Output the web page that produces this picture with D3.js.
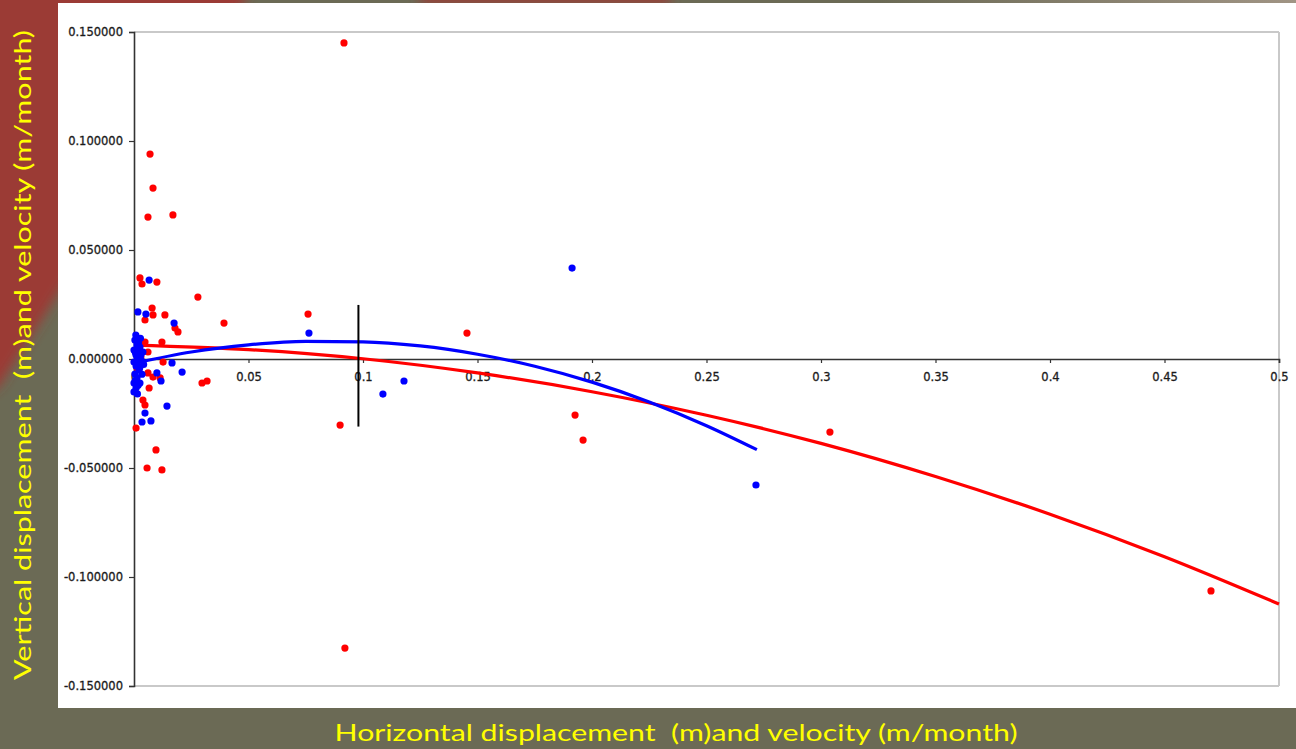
<!DOCTYPE html>
<html>
<head>
<meta charset="utf-8">
<script src="https://cdn.jsdelivr.net/npm/d3@7"></script>
<style>
  html, body { margin: 0; padding: 0; background: #6b6a55; overflow: hidden; }
  svg { display: block; }
</style>
</head>
<body>
<script>
// values
var xTicks = [0, 0.05, 0.1, 0.15, 0.2, 0.25, 0.3, 0.35, 0.4, 0.45, 0.5];
var xTickLabels = ["0", "0.05", "0.1", "0.15", "0.2", "0.25", "0.3", "0.35", "0.4", "0.45", "0.5"];
var yTicks = [0.15, 0.1, 0.05, 0, -0.05, -0.1, -0.15];
var yTickLabels = ["0.150000", "0.100000", "0.050000", "0.000000", "-0.050000", "-0.100000", "-0.150000"];

var redX = [0.0917, 0.0070, 0.0083, 0.0061, 0.0170, 0.0026, 0.0035, 0.0100, 0.0279, 0.0393,
            0.0760, 0.1454, 0.0079, 0.0083, 0.0048, 0.0135, 0.0179, 0.0192, 0.0061, 0.0122,
            0.0127, 0.0061, 0.0083, 0.0066, 0.0039, 0.0048, 0.0297, 0.0319, 0.0009, 0.0096,
            0.0057, 0.0122, 0.0900, 0.0921, 0.1926, 0.1961, 0.3039, 0.4703, 0.0114, 0.0048,
            0.0013, 0.0030];
var redY = [0.1450, 0.0940, 0.0784, 0.0651, 0.0661, 0.0372, 0.0344, 0.0353, 0.0284, 0.0165,
            0.0206, 0.0119, 0.0234, 0.0202, 0.0179, 0.0202, 0.0142, 0.0124, 0.0032, 0.0078,
            -0.0014, -0.0064, -0.0083, -0.0133, -0.0188, -0.0211, -0.0110, -0.0101, -0.0317, -0.0417,
            -0.0500, -0.0509, -0.0303, -0.1326, -0.0257, -0.0372, -0.0335, -0.1064, -0.0087, 0.0078,
            -0.0040, 0.0010];

var blueX = [0.1913, 0.2716, 0.1087, 0.1179, 0.0764, 0.0066, 0.0017, 0.0052, 0.0175, 0.0166,
             0.0210, 0.0100, 0.0026, 0.0144, 0.0048, 0.0035, 0.0074, 0.0118,
             0.0004, 0.0013, 0.0000, 0.0009, 0.0017, 0.0000, 0.0009, 0.0022, 0.0004, 0.0013,
             0.0000, 0.0009, 0.0031, 0.0039, 0.0026, 0.0000,
             0.0020, 0.0030, 0.0012, 0.0025, 0.0005, 0.0018, 0.0035, 0.0008, 0.0028, 0.0015,
             0.0042, 0.0022, 0.0006];
var blueY = [0.0417, -0.0578, -0.0161, -0.0101, 0.0119, 0.0362, 0.0216, 0.0206, 0.0165, -0.0018,
             -0.0060, -0.0064, -0.0110, -0.0216, -0.0248, -0.0289, -0.0284, -0.0101,
             0.0087, 0.0064, 0.0041, 0.0018, 0.0005, -0.0014, -0.0032, -0.0050, -0.0069, -0.0087,
             -0.0110, -0.0133, -0.0005, 0.0032, 0.0055, -0.0151,
             0.0075, 0.0020, -0.0022, -0.0040, -0.0100, -0.0120, -0.0070, 0.0110, 0.0095, -0.0160,
             -0.0025, 0.0045, 0.0030];

// trend lines
var redTrendX = [0, 0.05, 0.1, 0.15, 0.2, 0.25, 0.3, 0.35, 0.4, 0.45, 0.5];
var redTrendY = [0.0064, 0.0043, 0.0001, -0.0064, -0.0150, -0.0258, -0.0387, -0.0539, -0.0712, -0.0907, -0.1124];
var blueTrendX = [0, 0.025, 0.05, 0.075, 0.1, 0.125, 0.15, 0.175, 0.2, 0.225, 0.25, 0.272];
var blueTrendY = [-0.0020, 0.0032, 0.0065, 0.0081, 0.0079, 0.0060, 0.0022, -0.0033, -0.0106, -0.0197, -0.0306, -0.0416];

// black marker line
var markerX = [0.098, 0.098];
var markerY = [0.0248, -0.0310];

var W = 1296, H = 749;
var svg = d3.select("body").append("svg").attr("width", W).attr("height", H);

// slide background
var defs = svg.append("defs");
var blur = defs.append("filter").attr("id", "soft").attr("x", "-20%").attr("y", "-20%").attr("width", "140%").attr("height", "140%");
blur.append("feGaussianBlur").attr("stdDeviation", 6);
var topGrad = defs.append("linearGradient").attr("id", "topg");
topGrad.append("stop").attr("offset", "0").attr("stop-color", "#6b6a55");
topGrad.append("stop").attr("offset", "1").attr("stop-color", "#a09484");

svg.append("rect").attr("width", W).attr("height", H).attr("fill", "#6b6a55");
svg.append("rect").attr("x", 880).attr("y", 0).attr("width", 416).attr("height", 6).attr("fill", "url(#topg)");
svg.append("path").attr("d", "M-20,-20 L250,-20 L245,0 L0,385 L-20,400 Z")
  .attr("fill", "#9b3a36").attr("filter", "url(#soft)");
svg.append("rect").attr("x", 420).attr("y", -10).attr("width", 250).attr("height", 14)
  .attr("fill", "#9b3a36").attr("filter", "url(#soft)");

// white panel
svg.append("rect").attr("x", 58).attr("y", 3).attr("width", W - 58).attr("height", 705).attr("fill", "#ffffff");

var x = d3.scaleLinear().domain([0, 0.5]).range([134, 1279]);
var y = d3.scaleLinear().domain([-0.15, 0.15]).range([686, 32]);

// plot frame
svg.append("line").attr("x1", x(0)).attr("x2", x(0.5)).attr("y1", y(0.15)).attr("y2", y(0.15))
  .attr("stroke", "#c9c9c9").attr("stroke-width", 2);
svg.append("line").attr("x1", x(0)).attr("x2", x(0.5)).attr("y1", y(-0.15)).attr("y2", y(-0.15))
  .attr("stroke", "#c9c9c9").attr("stroke-width", 2);
svg.append("line").attr("x1", x(0.5)).attr("x2", x(0.5)).attr("y1", y(0.15)).attr("y2", y(-0.15))
  .attr("stroke", "#c9c9c9").attr("stroke-width", 2);

var tickFont = "'DejaVu Sans', Verdana, sans-serif";

// y axis
var yAxis = d3.axisLeft(y).tickValues(yTicks).tickSize(5).tickPadding(6)
  .tickFormat(function(d, i) { return yTickLabels[i]; });
var gy = svg.append("g").attr("transform", "translate(" + x(0) + ",0)").call(yAxis);
gy.select(".domain").attr("stroke", "#333").attr("stroke-width", 1.6);
gy.selectAll(".tick line").attr("stroke", "#333").attr("stroke-width", 1.2);
gy.selectAll("text").attr("fill", "#1a1a1a").attr("stroke", "#1a1a1a").attr("stroke-width", 0.3)
  .style("font-family", tickFont).style("font-size", "11.5px");

// x axis through zero
var xAxis = d3.axisBottom(x).tickValues(xTicks).tickSize(4).tickPadding(10)
  .tickFormat(function(d, i) { return xTickLabels[i]; });
var gx = svg.append("g").attr("transform", "translate(0," + y(0) + ")").call(xAxis);
gx.select(".domain").attr("stroke", "#333").attr("stroke-width", 1.6);
gx.selectAll(".tick line").attr("stroke", "#333").attr("stroke-width", 1.2);
gx.selectAll("text").attr("fill", "#1a1a1a").attr("stroke", "#1a1a1a").attr("stroke-width", 0.3)
  .style("font-family", tickFont).style("font-size", "11.5px");

// trend lines
var line = d3.line().x(function(d) { return x(d[0]); }).y(function(d) { return y(d[1]); }).curve(d3.curveMonotoneX);
svg.append("path").datum(d3.zip(redTrendX, redTrendY)).attr("d", line)
  .attr("fill", "none").attr("stroke", "#ff0000").attr("stroke-width", 3.2);
svg.append("path").datum(d3.zip(blueTrendX, blueTrendY)).attr("d", line)
  .attr("fill", "none").attr("stroke", "#0000ff").attr("stroke-width", 3.2);

// points
svg.append("g").selectAll("circle").data(d3.zip(redX, redY)).enter().append("circle")
  .attr("cx", function(d) { return x(d[0]); }).attr("cy", function(d) { return y(d[1]); })
  .attr("r", 3.6).attr("fill", "#ff0000");
svg.append("g").selectAll("circle").data(d3.zip(blueX, blueY)).enter().append("circle")
  .attr("cx", function(d) { return x(d[0]); }).attr("cy", function(d) { return y(d[1]); })
  .attr("r", 3.6).attr("fill", "#0000ff");

// black vertical marker
svg.append("line").attr("x1", x(markerX[0])).attr("x2", x(markerX[1]))
  .attr("y1", y(markerY[0])).attr("y2", y(markerY[1]))
  .attr("stroke", "#000").attr("stroke-width", 2);

// axis titles
var titleFont = "Lato, 'Open Sans', sans-serif";
svg.append("text").attr("x", 676).attr("y", 741).attr("text-anchor", "middle")
  .attr("fill", "#ffff00").style("font-family", titleFont).style("font-size", "24px")
  .style("white-space", "pre")
  .attr("textLength", 683).attr("lengthAdjust", "spacingAndGlyphs")
  .text("Horizontal displacement  (m)and velocity (m/month)");
svg.append("text").attr("transform", "translate(31,355) rotate(-90)").attr("text-anchor", "middle")
  .attr("fill", "#ffff00").style("font-family", titleFont).style("font-size", "24px")
  .style("white-space", "pre")
  .attr("textLength", 650).attr("lengthAdjust", "spacingAndGlyphs")
  .text("Vertical displacement  (m)and velocity (m/month)");
</script>
</body>
</html>
